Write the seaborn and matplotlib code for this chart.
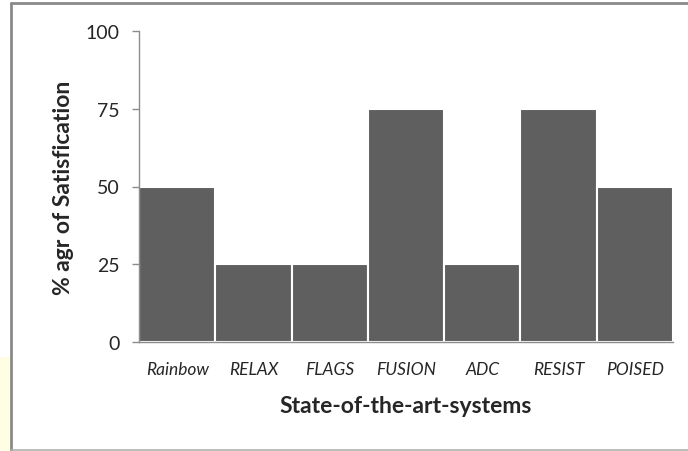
import matplotlib
matplotlib.use("Agg")
import matplotlib.pyplot as plt
import seaborn as sns
import pandas as pd
from matplotlib.patches import Rectangle

systems = ["Rainbow", "RELAX", "FLAGS", "FUSION", "ADC", "RESIST", "POISED"]
satisfaction = [50, 25, 25, 75, 25, 75, 50]
yticks = [0, 25, 50, 75, 100]

sns.set_style("white")
plt.rcParams["font.family"] = ["Lato", "DejaVu Sans"]

df = pd.DataFrame({"system": systems, "satisfaction": satisfaction})

fig = plt.figure(figsize=(6.88, 4.52), dpi=100)
ax = fig.add_axes([139 / 688, 1 - 343 / 452, (673 - 139) / 688, (343 - 32) / 452])

sns.barplot(data=df, x="system", y="satisfaction", order=systems,
            color="#5f5f5f", saturation=1, width=1.0,
            edgecolor="white", linewidth=1.5, ax=ax)

ax.set_xlim(-0.5, len(systems) - 0.5)
ax.set_ylim(0, 100)
ax.set_yticks(yticks)
ax.set_yticklabels([str(v) for v in yticks], fontsize=14, color="#262626")
ax.tick_params(axis="y", direction="out", length=5, width=1, color="#8c8c8c", pad=9, left=True)
ax.tick_params(axis="x", length=0, pad=14)
for lab in ax.get_xticklabels():
    lab.set_fontstyle("italic")
    lab.set_fontsize(12.5)
    lab.set_color("#262626")

for side in ["top", "right"]:
    ax.spines[side].set_visible(False)
for side in ["left", "bottom"]:
    ax.spines[side].set_color("#8c8c8c")
    ax.spines[side].set_linewidth(1)

ax.set_xlabel("State-of-the-art-systems", fontsize=16.5, fontweight="bold", labelpad=13)
ax.set_ylabel("% agr of Satisfication", fontsize=16.5, fontweight="bold", labelpad=8)

# frame around the chart area and pale strip at the lower left
fig.patches.append(Rectangle((0, 0), 11 / 688, (452 - 358) / 452, transform=fig.transFigure,
                             facecolor="#fffde3", edgecolor="none", zorder=0))
fig.lines.append(plt.Line2D([11.5 / 688, 11.5 / 688], [0, 1 - 3.5 / 452], transform=fig.transFigure,
                            color="#8a8a8a", linewidth=2))
fig.lines.append(plt.Line2D([11.5 / 688, 1], [1 - 3.5 / 452, 1 - 3.5 / 452], transform=fig.transFigure,
                            color="#8a8a8a", linewidth=2))
fig.lines.append(plt.Line2D([11.5 / 688, 1], [0.8 / 452, 0.8 / 452], transform=fig.transFigure,
                            color="#b0b0b0", linewidth=1.2))

fig.savefig("out.png", dpi=100)
